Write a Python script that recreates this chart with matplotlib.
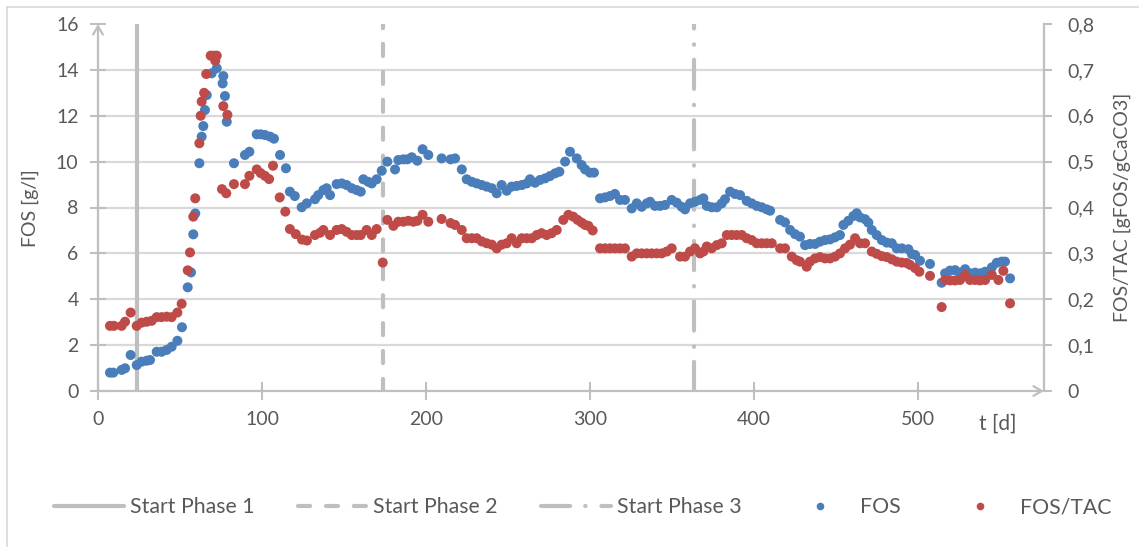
import matplotlib
matplotlib.use('Agg')
import matplotlib.pyplot as plt
from matplotlib.lines import Line2D

plt.rcParams['font.family'] = ['Lato', 'DejaVu Sans']

# ---------------- data ----------------
fos_days = [7.3, 9.3, 14.4, 16.5, 19.9, 23.6, 26.6, 29.7, 31.7, 35.8, 38.8, 41.9, 44.9, 48.4,
            51.2, 54.7, 56.7, 58.1, 59.3, 61.8, 63.2, 64.2, 65.2, 66.3, 69.3, 72.4, 76.0, 76.4,
            77.4, 78.5, 82.9, 89.6, 92.3, 96.8, 99.2, 101.8, 104.9, 107.3, 111.0, 114.6, 117.0,
            120.0, 124.2, 127.3, 132.3, 134.3, 137.4, 139.4, 141.5, 145.5, 148.6, 151.6, 154.7,
            157.7, 160.2, 161.8, 164.8, 166.9, 169.9, 173.0, 176.4, 181.1, 183.1, 186.2, 188.6,
            191.3, 194.7, 197.9, 201.4, 209.5, 215.0, 217.7, 221.8, 224.8, 227.9, 230.9, 234.0,
            237.0, 240.1, 243.1, 246.1, 249.2, 252.2, 255.3, 258.4, 261.4, 263.4, 266.5, 269.5,
            272.6, 275.6, 278.7, 281.3, 284.8, 287.8, 291.9, 294.9, 297.0, 300.0, 302.4, 306.1,
            309.1, 312.2, 315.2, 318.3, 321.3, 325.4, 328.5, 331.5, 334.6, 336.6, 339.6, 342.7,
            345.7, 349.8, 352.9, 355.9, 357.9, 361.0, 364.0, 367.1, 369.1, 371.2, 374.2, 377.3,
            380.3, 382.3, 385.4, 388.4, 391.5, 395.5, 398.6, 401.6, 404.7, 407.7, 409.8, 415.9,
            418.9, 422.0, 425.0, 428.0, 431.1, 434.1, 437.2, 440.2, 443.3, 446.3, 449.4, 452.4,
            454.5, 457.5, 460.6, 462.6, 464.6, 467.7, 469.7, 471.8, 474.8, 477.9, 480.9, 484.0,
            487.0, 490.1, 494.1, 496.2, 498.2, 501.2, 507.3, 514.4, 516.5, 519.5, 522.6, 525.6,
            528.7, 531.7, 534.8, 537.8, 540.9, 545.0, 548.0, 551.0, 553.0, 556.1]
fos_values = [0.80, 0.80, 0.92, 0.99, 1.57, 1.13, 1.28, 1.32, 1.35, 1.71, 1.71, 1.79, 1.93, 2.19,
              2.78, 4.52, 5.17, 6.83, 7.74, 9.93, 11.09, 11.55, 12.25, 12.90, 13.85, 14.07, 13.41,
              13.73, 12.86, 11.74, 9.93, 10.29, 10.43, 11.19, 11.19, 11.16, 11.09, 11.00, 10.29,
              9.71, 8.69, 8.50, 8.01, 8.18, 8.36, 8.54, 8.76, 8.84, 8.54, 9.02, 9.05, 8.98, 8.84,
              8.76, 8.69, 9.23, 9.12, 9.05, 9.23, 9.60, 10.00, 9.66, 10.07, 10.10, 10.10, 10.19,
              10.04, 10.54, 10.29, 10.14, 10.10, 10.14, 9.66, 9.23, 9.12, 9.05, 8.98, 8.91, 8.84,
              8.62, 8.98, 8.73, 8.91, 8.94, 8.98, 9.05, 9.23, 9.08, 9.20, 9.27, 9.37, 9.49, 9.56,
              10.00, 10.43, 10.14, 9.85, 9.66, 9.52, 9.52, 8.40, 8.44, 8.50, 8.59, 8.33, 8.33,
              7.96, 8.18, 8.03, 8.18, 8.25, 8.07, 8.07, 8.11, 8.33, 8.21, 8.03, 7.92, 8.18, 8.25,
              8.33, 8.40, 8.07, 8.01, 8.01, 8.18, 8.36, 8.69, 8.59, 8.54, 8.29, 8.18, 8.07, 8.01,
              7.92, 7.86, 7.46, 7.35, 7.02, 6.84, 6.73, 6.36, 6.41, 6.41, 6.51, 6.58, 6.61, 6.70,
              6.80, 7.24, 7.42, 7.63, 7.75, 7.57, 7.49, 7.34, 7.02, 6.80, 6.58, 6.47, 6.44, 6.22,
              6.22, 6.18, 5.97, 5.93, 5.68, 5.54, 4.72, 5.13, 5.25, 5.27, 5.16, 5.31, 5.13, 5.16,
              5.13, 5.20, 5.39, 5.59, 5.64, 5.64, 4.91]

ratio_days = [7.3, 9.7, 14.4, 16.5, 19.9, 23.6, 26.6, 29.7, 32.7, 35.8, 38.8, 41.9, 44.9, 48.4,
              51.0, 54.7, 56.1, 58.1, 59.3, 61.8, 62.6, 63.2, 64.7, 66.0, 68.7, 70.8, 71.5, 72.4,
              75.6, 76.4, 78.2, 78.9, 82.9, 89.6, 92.3, 96.8, 99.2, 101.8, 104.3, 106.7, 110.8,
              114.2, 117.0, 120.6, 124.4, 127.4, 132.3, 135.4, 137.4, 141.5, 145.5, 148.6, 151.6,
              154.7, 157.7, 160.2, 163.8, 166.9, 169.9, 173.6, 176.4, 180.1, 183.1, 186.2, 189.2,
              192.3, 194.7, 197.9, 201.4, 209.5, 215.0, 217.7, 221.8, 224.8, 227.9, 230.9, 234.0,
              237.0, 240.1, 243.1, 246.1, 249.2, 252.2, 255.3, 258.4, 261.4, 264.5, 267.5, 270.5,
              273.6, 276.6, 279.7, 283.7, 286.8, 289.8, 292.4, 294.9, 297.0, 299.0, 301.6, 306.1,
              309.1, 312.2, 315.2, 318.3, 321.3, 325.4, 328.5, 331.5, 334.6, 337.6, 340.7, 343.7,
              346.8, 349.8, 354.9, 357.9, 361.0, 364.0, 367.1, 369.1, 371.2, 374.2, 377.3, 380.3,
              383.4, 386.4, 389.4, 392.5, 395.5, 398.6, 401.6, 404.7, 407.7, 410.8, 415.9, 418.9,
              423.0, 426.0, 428.0, 432.1, 434.1, 437.2, 440.2, 443.3, 446.3, 449.4, 452.4, 455.5,
              458.5, 461.6, 464.6, 467.7, 471.8, 474.8, 477.9, 480.9, 484.0, 487.0, 490.1, 493.1,
              495.1, 498.2, 500.8, 507.3, 514.4, 516.5, 519.5, 522.6, 525.6, 528.7, 531.7, 534.8,
              537.8, 540.9, 545.0, 549.0, 552.0, 556.1]
ratio_values = [0.142, 0.142, 0.142, 0.151, 0.171, 0.142, 0.149, 0.151, 0.153, 0.161, 0.161,
                0.162, 0.161, 0.171, 0.190, 0.263, 0.302, 0.380, 0.420, 0.540, 0.600, 0.631,
                0.650, 0.691, 0.731, 0.731, 0.720, 0.731, 0.440, 0.621, 0.431, 0.602, 0.451,
                0.451, 0.469, 0.483, 0.475, 0.469, 0.462, 0.491, 0.422, 0.391, 0.353, 0.342,
                0.330, 0.328, 0.340, 0.345, 0.351, 0.340, 0.351, 0.353, 0.347, 0.340, 0.340,
                0.340, 0.351, 0.340, 0.353, 0.280, 0.373, 0.360, 0.369, 0.369, 0.371, 0.369,
                0.371, 0.384, 0.369, 0.375, 0.366, 0.362, 0.351, 0.333, 0.333, 0.333, 0.326,
                0.322, 0.319, 0.311, 0.319, 0.322, 0.333, 0.322, 0.333, 0.333, 0.333, 0.340,
                0.344, 0.340, 0.344, 0.351, 0.373, 0.384, 0.380, 0.373, 0.367, 0.362, 0.360,
                0.350, 0.311, 0.311, 0.311, 0.311, 0.311, 0.311, 0.293, 0.300, 0.300, 0.300,
                0.300, 0.300, 0.300, 0.304, 0.311, 0.293, 0.293, 0.304, 0.311, 0.300, 0.304,
                0.315, 0.311, 0.318, 0.322, 0.340, 0.340, 0.340, 0.340, 0.333, 0.329, 0.322,
                0.322, 0.322, 0.322, 0.311, 0.311, 0.293, 0.285, 0.282, 0.271, 0.282, 0.289,
                0.292, 0.289, 0.289, 0.293, 0.300, 0.311, 0.319, 0.333, 0.322, 0.322, 0.304,
                0.299, 0.294, 0.292, 0.287, 0.282, 0.280, 0.279, 0.275, 0.268, 0.260, 0.251,
                0.183, 0.242, 0.241, 0.241, 0.242, 0.253, 0.242, 0.242, 0.241, 0.242, 0.253,
                0.242, 0.262, 0.191]

phase_starts = [23.5, 173.5, 363.5]
phase_labels = ['Start Phase 1', 'Start Phase 2', 'Start Phase 3']
x_ticks = [0, 100, 200, 300, 400, 500]
y_left_ticks = [0, 2, 4, 6, 8, 10, 12, 14, 16]
y_right_ticks = [0.0, 0.1, 0.2, 0.3, 0.4, 0.5, 0.6, 0.7, 0.8]
y_right_labels = ['0', '0,1', '0,2', '0,3', '0,4', '0,5', '0,6', '0,7', '0,8']
x_label = 't [d]'
y_left_label = 'FOS [g/l]'
y_right_label = 'FOS/TAC [gFOS/gCaCO3]'
series_labels = ['FOS', 'FOS/TAC']

# ---------------- style ----------------
BLUE = '#4A7EBB'
RED = '#BE4B48'
AXIS = '#BFBFBF'
GRID = '#D9D9D9'
TEXT = '#595959'
PHASE = '#BFBFBF'
FS_TICK = 14
FS_LEG = 15.3
FS_LAB = 14

phase_styles = ['-', (0, (2.9, 3.8)), (0, (7.0, 3.6, 0.1, 3.8))]

W, H = 1139, 547
fig = plt.figure(figsize=(W / 100, H / 100), dpi=100)
fig.patch.set_facecolor('white')

L, R, B, T = 98, 1044, 391, 24
ax = fig.add_axes([L / W, 1 - B / H, (R - L) / W, (B - T) / H])
ax2 = ax.twinx()
ax.set_zorder(1)
ax2.set_zorder(2)
ax.patch.set_visible(False)
ax2.patch.set_visible(False)

ax.set_xlim(0, 576.8)
ax.set_ylim(0, 16)
ax2.set_ylim(0, 0.8)

for y in y_left_ticks[1:-1]:
    ax.axhline(y, color=GRID, lw=1.6, zorder=0)

for xs, ls in zip(phase_starts, phase_styles):
    ax.plot([xs, xs], [0, 16], color=PHASE, lw=3.0, linestyle=ls,
            solid_capstyle='butt', dash_capstyle='round', zorder=2)

ax.scatter(fos_days, fos_values, s=52, color=BLUE, edgecolors='none', zorder=3)
ax2.scatter(ratio_days, ratio_values, s=52, color=RED, edgecolors='none', zorder=3)

for s in ax.spines.values():
    s.set_visible(False)
for k, s in ax2.spines.items():
    s.set_visible(k == 'right')
ax2.spines['right'].set_color(AXIS)
ax2.spines['right'].set_linewidth(1.6)

# axis arrows
ax.annotate('', xy=(0, 1), xytext=(0, 0), xycoords='axes fraction',
            arrowprops=dict(arrowstyle='->,head_length=0.6,head_width=0.35',
                            color=AXIS, lw=1.6, shrinkA=0, shrinkB=0), zorder=1)
ax.annotate('', xy=(1, 0), xytext=(0, 0), xycoords='axes fraction',
            arrowprops=dict(arrowstyle='->,head_length=0.6,head_width=0.35',
                            color=AXIS, lw=1.6, shrinkA=0, shrinkB=0), zorder=1)

ax.set_xticks(x_ticks)
ax.set_xticklabels([str(v) for v in x_ticks])
ax.set_yticks(y_left_ticks)
ax.set_yticklabels([str(v) for v in y_left_ticks])
ax.tick_params(axis='x', direction='inout', length=13, width=1.5, color=AXIS,
               labelcolor=TEXT, labelsize=FS_TICK, pad=8)
ax.tick_params(axis='y', direction='inout', length=12, width=1.5, color=AXIS,
               labelcolor=TEXT, labelsize=FS_TICK, pad=8)
ax2.set_yticks(y_right_ticks)
ax2.set_yticklabels(y_right_labels)
ax2.tick_params(axis='y', direction='out', length=6, width=1.5, color=AXIS,
                labelcolor=TEXT, labelsize=FS_TICK, pad=11)

fig.text(998 / W, 1 - 424 / H, x_label, ha='center', va='center', color=TEXT, fontsize=FS_TICK + 1)
fig.text(30 / W, 1 - 208 / H, y_left_label, rotation=90, ha='center', va='center',
         color=TEXT, fontsize=FS_LAB)
fig.text(1122 / W, 1 - 207 / H, y_right_label, rotation=90, ha='center', va='center',
         color=TEXT, fontsize=FS_LAB)

# outer frame (left & top edges visible)
fig.add_artist(Line2D([7 / W, 7 / W], [0, 1 - 7 / H], transform=fig.transFigure, color=GRID, lw=1.2))
fig.add_artist(Line2D([7 / W, 1], [1 - 7 / H, 1 - 7 / H], transform=fig.transFigure, color=GRID, lw=1.2))

handles = [Line2D([], [], color=PHASE, lw=3.0, linestyle=ls, solid_capstyle='round',
                  dash_capstyle='round') for ls in phase_styles]
handles += [Line2D([], [], linestyle='none', marker='o', markersize=5.5, color=BLUE, markeredgewidth=0),
            Line2D([], [], linestyle='none', marker='o', markersize=5.5, color=RED, markeredgewidth=0)]
leg = fig.legend(handles, phase_labels + series_labels, loc='center', ncol=5,
                 bbox_to_anchor=(583 / W, 1 - 507 / H), frameon=False, fontsize=FS_LEG,
                 handlelength=3.3, handletextpad=0.25, columnspacing=2.05)
for t in leg.get_texts():
    t.set_color(TEXT)

fig.savefig('out.png', dpi=100)
